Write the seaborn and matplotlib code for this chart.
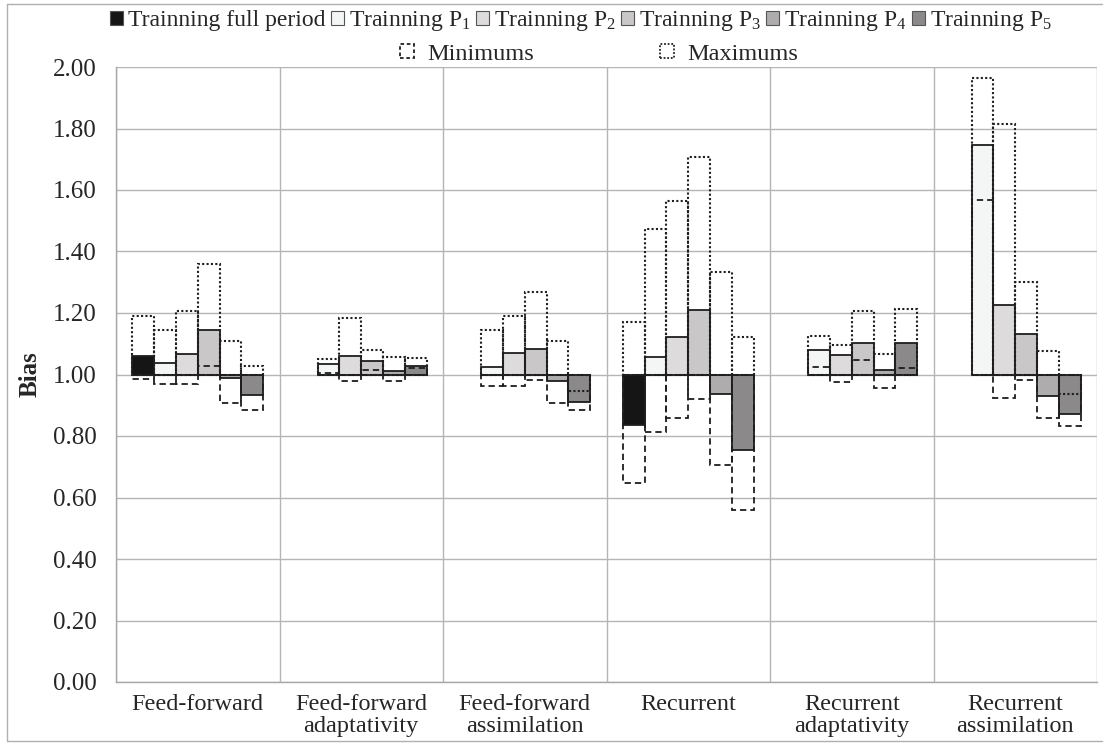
import numpy as np
import pandas as pd
import matplotlib
matplotlib.use("Agg")
import matplotlib.pyplot as plt
from matplotlib.patches import Patch
from matplotlib.lines import Line2D
import seaborn as sns

nan = np.nan

groups = ["Feed-forward", "Feed-forward\nadaptativity", "Feed-forward\nassimilation",
          "Recurrent", "Recurrent\nadaptativity", "Recurrent\nassimilation"]
periods = ["full", "P1", "P2", "P3", "P4", "P5"]
legend_labels = ["Trainning full period",
                 r"Trainning P$_\mathregular{1}$", r"Trainning P$_\mathregular{2}$",
                 r"Trainning P$_\mathregular{3}$", r"Trainning P$_\mathregular{4}$",
                 r"Trainning P$_\mathregular{5}$"]

# Bias values per training period
bias_full = [1.06, nan, nan, 0.836, nan, nan]
bias_p1 = [1.038, 1.034, 1.026, 1.057, 1.081, 1.746]
bias_p2 = [1.067, 1.060, 1.071, 1.122, 1.062, 1.225]
bias_p3 = [1.145, 1.044, 1.083, 1.209, 1.102, 1.131]
bias_p4 = [0.987, 1.010, 0.978, 0.938, 1.015, 0.930]
bias_p5 = [0.933, 1.028, 0.910, 0.753, 1.102, 0.873]

# Minimums
min_full = [0.985, nan, nan, 0.646, nan, nan]
min_p1 = [0.968, 1.005, 0.962, 0.813, 1.026, 1.569]
min_p2 = [0.968, 0.978, 0.963, 0.859, 0.975, 0.923]
min_p3 = [1.027, 1.014, 0.983, 0.921, 1.046, 0.981]
min_p4 = [0.908, 0.978, 0.908, 0.706, 0.956, 0.860]
min_p5 = [0.885, 1.020, 0.884, 0.558, 1.020, 0.833]

# Maximums
max_full = [1.190, nan, nan, 1.170, nan, nan]
max_p1 = [1.145, 1.050, 1.145, 1.473, 1.124, 1.963]
max_p2 = [1.207, 1.183, 1.190, 1.564, 1.097, 1.814]
max_p3 = [1.360, 1.080, 1.268, 1.707, 1.205, 1.301]
max_p4 = [1.108, 1.058, 1.108, 1.332, 1.067, 1.078]
max_p5 = [1.027, 1.053, 0.946, 1.122, 1.213, 0.937]

colors = ["#151515", "#f4f6f6", "#dddbdb", "#c9c7c7", "#aeacac", "#8b8989"]


def long_frame(series_list):
    rows = []
    for per, vals in zip(periods, series_list):
        for g, v in zip(groups, vals):
            if not np.isnan(v):
                rows.append({"group": g, "period": per, "value": v, "offset": v - 1.0})
    return pd.DataFrame(rows)


df_bias = long_frame([bias_full, bias_p1, bias_p2, bias_p3, bias_p4, bias_p5])
df_min = long_frame([min_full, min_p1, min_p2, min_p3, min_p4, min_p5])
df_max = long_frame([max_full, max_p1, max_p2, max_p3, max_p4, max_p5])

sns.set_theme(style="white")
plt.rcParams["font.family"] = ["Liberation Serif", "DejaVu Serif"]
plt.rcParams["mathtext.fontset"] = "custom"
plt.rcParams["mathtext.rm"] = "Liberation Serif"
plt.rcParams["mathtext.it"] = "Liberation Serif:italic"

fig = plt.figure(figsize=(11.04, 7.45), dpi=100)
ax = fig.add_axes([116 / 1104, 1 - 682 / 745, (1097 - 116) / 1104, (682 - 67) / 745])

edge = "#1e1e1e"
sns.barplot(data=df_bias, x="group", y="offset", hue="period", order=groups,
            hue_order=periods, palette=colors, bottom=1.0, errorbar=None,
            legend=False, edgecolor=edge, linewidth=1.3, width=0.8, ax=ax, zorder=2)
sns.barplot(data=df_min, x="group", y="offset", hue="period", order=groups,
            hue_order=periods, palette=colors, bottom=1.0, errorbar=None,
            legend=False, fill=False, edgecolor=edge, linewidth=1.3,
            linestyle=(0, (3.5, 2.2)), width=0.8, ax=ax, zorder=3)
sns.barplot(data=df_max, x="group", y="offset", hue="period", order=groups,
            hue_order=periods, palette=colors, bottom=1.0, errorbar=None,
            legend=False, fill=False, edgecolor=edge, linewidth=1.5,
            linestyle=(0, (1, 1.1)), width=0.8, ax=ax, zorder=3)

ax.set_ylim(0, 2.0)
ax.set_xlim(-0.5, len(groups) - 0.5)
ax.set_yticks(np.arange(0, 2.01, 0.2))
ax.set_yticklabels([f"{v:.2f}" for v in np.arange(0, 2.01, 0.2)], fontsize=18)
ax.set_xticks(range(len(groups)))
ax.set_xticklabels(groups, fontsize=17.5, linespacing=1.05)
ax.set_xticks(np.arange(-0.5, len(groups), 1.0), minor=True)
ax.tick_params(axis="x", which="major", length=0, pad=9)
ax.tick_params(axis="x", which="minor", length=6, color="#a8a8a8", width=1, direction="out")
ax.tick_params(axis="y", which="major", length=7, color="#a8a8a8", width=1, direction="out", pad=7)
ax.set_xlabel("")
ax.set_ylabel("Bias", fontsize=18, fontweight="bold", labelpad=8)

ax.set_axisbelow(True)
ax.yaxis.grid(True, color="#b5b5b5", linewidth=1)
ax.xaxis.grid(True, which="minor", color="#b5b5b5", linewidth=1)
ax.xaxis.grid(False, which="major")
for side in ["top", "right"]:
    ax.spines[side].set_visible(False)
for side in ["left", "bottom"]:
    ax.spines[side].set_visible(True)
    ax.spines[side].set_color("#a8a8a8")
    ax.spines[side].set_linewidth(1)

# Legends
bar_handles = [Patch(facecolor=c, edgecolor="#555555", linewidth=0.8) for c in colors]
leg1 = fig.legend(bar_handles, legend_labels, loc="center", ncol=6,
                  bbox_to_anchor=(581 / 1104, 1 - 21 / 745), frameon=False,
                  fontsize=17, handlelength=0.55, handleheight=0.55,
                  handletextpad=0.22, columnspacing=0.22, borderpad=0)
mm_handles = [Patch(facecolor="none", edgecolor="#222222", linewidth=1.3, linestyle=(0, (2, 1.5))),
              Patch(facecolor="none", edgecolor="#222222", linewidth=1.3, linestyle=(0, (1, 1)))]
leg2 = fig.legend(mm_handles, ["Minimums", "Maximums"], loc="center", ncol=2,
                  bbox_to_anchor=(599 / 1104, 1 - 54 / 745), frameon=False,
                  fontsize=17.5, handlelength=0.55, handleheight=0.55,
                  handletextpad=0.55, columnspacing=5.2, borderpad=0)

# Outer figure border
bc = "#b0b0b0"
fig.add_artist(Line2D([7 / 1104, 7 / 1104], [1 - 4 / 745, 1 - 741 / 745], color=bc, lw=1, transform=fig.transFigure))
fig.add_artist(Line2D([7 / 1104, 1102 / 1104], [1 - 4 / 745, 1 - 4 / 745], color=bc, lw=1, transform=fig.transFigure))
fig.add_artist(Line2D([7 / 1104, 1102 / 1104], [1 - 741 / 745, 1 - 741 / 745], color=bc, lw=1, transform=fig.transFigure))

fig.savefig("out.png", dpi=100)
